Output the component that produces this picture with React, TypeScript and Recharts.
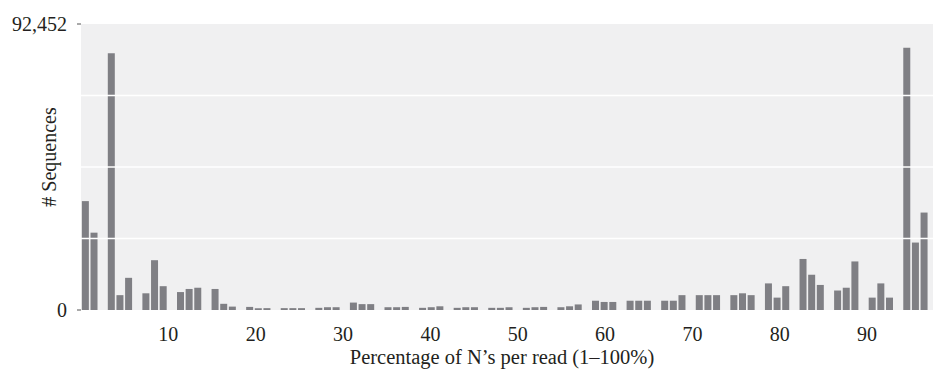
import React from 'react';
import { BarChart, Bar, XAxis, YAxis, CartesianGrid, Label, ReferenceLine } from 'recharts';

const bins = [
  '1', '2', '3', '4', '5', '6', '7', '8', '9', '10',
  '11', '12', '13', '14', '15', '16', '17', '18', '19', '20',
  '21', '22', '23', '24', '25', '26', '27', '28', '29', '30',
  '31', '32', '33', '34', '35', '36', '37', '38', '39', '40',
  '41', '42', '43', '44', '45', '46', '47', '48', '49', '50',
  '51', '52', '53', '54', '55', '56', '57', '58', '59', '60',
  '61', '62', '63', '64', '65', '66', '67', '68', '69', '70',
  '71', '72', '73', '74', '75', '76', '77', '78', '79', '80',
  '81', '82', '83', '84', '85', '86', '87', '88', '89', '90',
  '91', '92', '93', '94', '95', '96', '97', '98', '99',
];

const counts = [
  35200, 25000, 0, 83000, 4800, 10400, 0, 5400, 16100, 7700,
  0, 5800, 6800, 7200, 0, 6800, 2000, 1100, 0, 1000,
  600, 600, 0, 600, 600, 600, 0, 700, 900, 900,
  0, 2400, 1900, 1900, 0, 900, 900, 1000, 0, 700,
  900, 1200, 0, 700, 900, 900, 0, 700, 700, 900,
  0, 700, 900, 1000, 0, 900, 1200, 1800, 0, 3000,
  2600, 2600, 0, 3000, 3000, 3000, 0, 3000, 3000, 4800,
  0, 4800, 4800, 4800, 0, 4800, 5400, 4800, 0, 8600,
  4000, 7700, 0, 16500, 11400, 8100, 0, 6300, 7200, 15700,
  0, 4000, 8600, 4000, 0, 84800, 21800, 31500, 0,
];

const xTickValues = [10, 20, 30, 40, 50, 60, 70, 80, 90];
const yTickValues = [0, 92452];
const gridValues = [23113, 46226, 69339];
const yMax = 92452;
const xDomain: [number, number] = [-0.15, 102.06];

const data = bins.map((b, i) => ({ bin: b, count: counts[i] }));

const FONT = '"Liberation Serif", "Times New Roman", serif';
const TEXT = '#231f20';

export default function App() {
  return (
    <div
      style={{
        position: 'absolute',
        left: 0,
        top: 0,
        width: 933,
        height: 374,
        overflow: 'hidden',
        background: '#fff',
      }}
    >
      <BarChart
        width={937}
        height={374}
        data={data}
        margin={{ top: 24, right: 0, bottom: 0, left: 0 }}
        barCategoryGap="10%"
      >
        <CartesianGrid vertical={false} horizontal={false} fill="#f0f0f1" />
        <XAxis
          xAxisId="cat"
          dataKey="bin"
          type="category"
          interval={0}
          tick={false}
          tickSize={3}
          tickLine={{ stroke: '#8a8a8e' }}
          axisLine={false}
          height={0}
        />
        <XAxis
          xAxisId="num"
          type="number"
          domain={xDomain}
          allowDataOverflow
          ticks={xTickValues}
          interval={0}
          tickSize={0}
          tickMargin={17}
          tickLine={false}
          axisLine={false}
          height={64}
          tick={{ fill: TEXT, fontSize: 20, fontFamily: FONT }}
        >
          <Label
            content={({ viewBox }: any) => (
              <text
                x={502}
                y={viewBox.y + 54}
                textAnchor="middle"
                fill={TEXT}
                fontSize={20.5}
                fontFamily={FONT}
              >
                Percentage of N’s per read (1–100%)
              </text>
            )}
          />
        </XAxis>
        <YAxis
          width={81}
          domain={[0, yMax]}
          ticks={yTickValues}
          interval={0}
          allowDataOverflow
          tickFormatter={(v: number) => v.toLocaleString('en-US')}
          tickSize={4}
          tickMargin={10}
          tickLine={{ stroke: '#555' }}
          axisLine={false}
          tick={{ fill: TEXT, fontSize: 20, fontFamily: FONT }}
        >
          <Label
            content={({ viewBox }: any) => {
              const cx = viewBox.x + 56;
              const cy = viewBox.y + viewBox.height / 2 - 10;
              return (
                <text
                  x={cx}
                  y={cy}
                  transform={`rotate(-90, ${cx}, ${cy})`}
                  textAnchor="middle"
                  fill={TEXT}
                  fontSize={20}
                  fontFamily={FONT}
                >
                  # Sequences
                </text>
              );
            }}
          />
        </YAxis>
        {gridValues.map((v) => (
          <ReferenceLine key={v} xAxisId="cat" y={v} stroke="#ffffff" strokeWidth={1.5} />
        ))}
        <Bar xAxisId="cat" dataKey="count" fill="#7f7f84" isAnimationActive={false} />
      </BarChart>
    </div>
  );
}
